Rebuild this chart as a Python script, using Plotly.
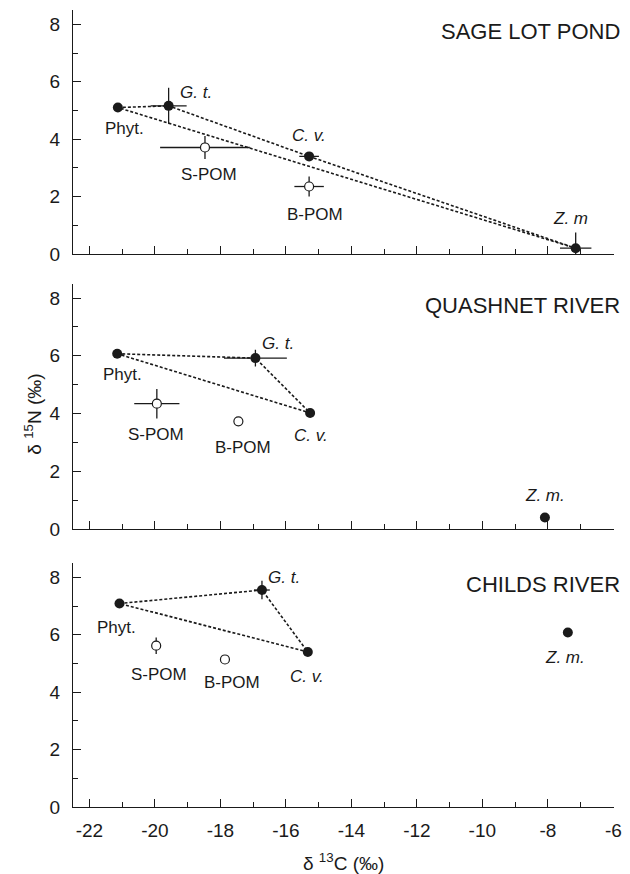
import plotly.graph_objects as go

# ---------------- data ----------------
# Sage Lot Pond
sage_fill_names = ["Phyt.", "G. t.", "C. v.", "Z. m"]
sage_fill_x = [-21.13, -19.58, -15.29, -7.15]
sage_fill_y = [5.10, 5.16, 3.40, 0.20]
sage_fill_xerr = [0, 0.55, 0.30, 0.48]
sage_fill_yerr = [0, 0.63, 0, 0.55]
sage_open_names = ["S-POM", "B-POM"]
sage_open_x = [-18.47, -15.29]
sage_open_y = [3.71, 2.35]
sage_open_xerr = [1.37, 0.45]
sage_open_yerr = [0.40, 0.35]

# Quashnet River
quash_fill_names = ["Phyt.", "G. t.", "C. v.", "Z. m."]
quash_fill_x = [-21.15, -16.93, -15.26, -8.09]
quash_fill_y = [6.07, 5.92, 4.02, 0.40]
quash_fill_xerr = [0, 0.96, 0, 0]
quash_fill_yerr = [0, 0.29, 0, 0]
quash_open_names = ["S-POM", "B-POM"]
quash_open_x = [-19.94, -17.45]
quash_open_y = [4.34, 3.73]
quash_open_xerr = [0.69, 0]
quash_open_yerr = [0.51, 0]

# Childs River
childs_fill_names = ["Phyt.", "G. t.", "C. v.", "Z. m."]
childs_fill_x = [-21.08, -16.73, -15.33, -7.39]
childs_fill_y = [7.09, 7.56, 5.40, 6.08]
childs_fill_xerr = [0, 0.24, 0, 0]
childs_fill_yerr = [0, 0.32, 0, 0]
childs_open_names = ["S-POM", "B-POM"]
childs_open_x = [-19.96, -17.86]
childs_open_y = [5.62, 5.14]
childs_open_xerr = [0, 0]
childs_open_yerr = [0.29, 0]

site_titles = ["SAGE LOT POND", "QUASHNET RIVER", "CHILDS RIVER"]

# label positions (data units) for each point label
sage_label_x = [-20.94, -18.74, -15.29, -7.31]
sage_label_y = [4.37, 5.62, 4.12, 1.22]
sage_open_label_x = [-18.34, -15.11]
sage_open_label_y = [2.76, 1.36]

quash_label_x = [-21.0, -16.24, -15.24, -8.09]
quash_label_y = [5.35, 6.44, 3.24, 1.17]
quash_open_label_x = [-19.96, -17.3]
quash_open_label_y = [3.29, 2.83]

childs_label_x = [-21.16, -16.07, -15.35, -7.48]
childs_label_y = [6.26, 8.0, 4.53, 5.21]
childs_open_label_x = [-19.87, -17.66]
childs_open_label_y = [4.63, 4.33]

x_ticks = [-22, -20, -18, -16, -14, -12, -10, -8, -6]
y_ticks = [0, 2, 4, 6, 8]

# mixing polygons (indices into filled points)
sage_poly = [0, 1, 2, 3, 0]
quash_poly = [0, 1, 2, 0]
childs_poly = [0, 1, 2, 0]

# --------------- figure ---------------
FONT = "Liberation Sans, Arial, Helvetica, sans-serif"
INK = "#1a1a1a"

panels = [
    dict(fx=sage_fill_x, fy=sage_fill_y, fxe=sage_fill_xerr, fye=sage_fill_yerr,
         ox=sage_open_x, oy=sage_open_y, oxe=sage_open_xerr, oye=sage_open_yerr,
         fn=sage_fill_names, on=sage_open_names,
         flx=sage_label_x, fly=sage_label_y, olx=sage_open_label_x, oly=sage_open_label_y,
         poly=sage_poly, title=site_titles[0], dom=[0.6939, 1.0]),
    dict(fx=quash_fill_x, fy=quash_fill_y, fxe=quash_fill_xerr, fye=quash_fill_yerr,
         ox=quash_open_x, oy=quash_open_y, oxe=quash_open_xerr, oye=quash_open_yerr,
         fn=quash_fill_names, on=quash_open_names,
         flx=quash_label_x, fly=quash_label_y, olx=quash_open_label_x, oly=quash_open_label_y,
         poly=quash_poly, title=site_titles[1], dom=[0.3488, 0.6567]),
    dict(fx=childs_fill_x, fy=childs_fill_y, fxe=childs_fill_xerr, fye=childs_fill_yerr,
         ox=childs_open_x, oy=childs_open_y, oxe=childs_open_xerr, oye=childs_open_yerr,
         fn=childs_fill_names, on=childs_open_names,
         flx=childs_label_x, fly=childs_label_y, olx=childs_open_label_x, oly=childs_open_label_y,
         poly=childs_poly, title=site_titles[2], dom=[0.0, 0.3061]),
]

fig = go.Figure()
annotations = []
layout_axes = {}

for i, p in enumerate(panels):
    n = i + 1
    xa = "x" if n == 1 else f"x{n}"
    ya = "y" if n == 1 else f"y{n}"
    # dashed mixing lines
    fig.add_trace(go.Scatter(
        x=[p["fx"][k] for k in p["poly"]], y=[p["fy"][k] for k in p["poly"]],
        mode="lines", line=dict(color=INK, width=1.6, dash="3px,2px"),
        xaxis=xa, yaxis=ya, showlegend=False, hoverinfo="skip"))
    # filled points
    fig.add_trace(go.Scatter(
        x=p["fx"], y=p["fy"], mode="markers",
        marker=dict(color=INK, size=10, line=dict(width=0)),
        error_x=dict(type="data", array=p["fxe"], color=INK, thickness=1.3, width=0),
        error_y=dict(type="data", array=p["fye"], color=INK, thickness=1.3, width=0),
        xaxis=xa, yaxis=ya, showlegend=False))
    # open points
    fig.add_trace(go.Scatter(
        x=p["ox"], y=p["oy"], mode="markers",
        marker=dict(color="white", size=9, line=dict(color=INK, width=1.2)),
        error_x=dict(type="data", array=p["oxe"], color=INK, thickness=1.3, width=0),
        error_y=dict(type="data", array=p["oye"], color=INK, thickness=1.3, width=0),
        xaxis=xa, yaxis=ya, showlegend=False))
    # labels
    for name, lx, ly in zip(p["fn"], p["flx"], p["fly"]):
        txt = name if name.startswith("Phyt") else f"<i>{name}</i>"
        annotations.append(dict(x=lx, y=ly, xref=xa, yref=ya, text=txt, showarrow=False,
                                font=dict(family=FONT, size=17, color=INK)))
    for name, lx, ly in zip(p["on"], p["olx"], p["oly"]):
        annotations.append(dict(x=lx, y=ly, xref=xa, yref=ya, text=name, showarrow=False,
                                font=dict(family=FONT, size=17, color=INK)))
    annotations.append(dict(x=1.0, y=7.75, xref=f"{xa} domain", yref=ya, text=p["title"],
                            showarrow=False, xanchor="right", yanchor="middle", xshift=8,
                            font=dict(family=FONT, size=22, color=INK)))

    xkey = "xaxis" if n == 1 else f"xaxis{n}"
    ykey = "yaxis" if n == 1 else f"yaxis{n}"
    layout_axes[xkey] = dict(
        range=[-22.5, -5.98], tickvals=x_ticks, ticktext=[str(v) for v in x_ticks],
        showticklabels=(n == 3), ticks="inside", ticklen=8, tickwidth=1.2, tickcolor=INK,
        minor=dict(ticks="inside", ticklen=5, tickwidth=1.2, tickcolor=INK, dtick=1, tick0=-22,
                   showgrid=False),
        showline=True, linecolor=INK, linewidth=1.3, showgrid=False, zeroline=False,
        anchor=ya, domain=[0, 1], ticklabelstandoff=6,
        tickfont=dict(family=FONT, size=19, color=INK))
    if n != 1:
        layout_axes[xkey]["matches"] = "x"
    layout_axes[ykey] = dict(
        range=[0, 8.5], tickvals=y_ticks, ticktext=[str(v) for v in y_ticks],
        ticks="inside", ticklen=8, tickwidth=1.2, tickcolor=INK,
        minor=dict(ticks="inside", ticklen=5, tickwidth=1.2, tickcolor=INK, dtick=1, tick0=0,
                   showgrid=False),
        showline=True, linecolor=INK, linewidth=1.3, showgrid=False, zeroline=False,
        anchor=xa, domain=p["dom"], ticklabelstandoff=8,
        tickfont=dict(family=FONT, size=19, color=INK))

# axis titles
annotations.append(dict(x=0.5, y=-0.069, xref="paper", yref="paper",
                        xanchor="center", yanchor="middle",
                        text="δ <sup>13</sup>C (‰)", showarrow=False,
                        font=dict(family=FONT, size=19, color=INK)))
annotations.append(dict(x=-0.0729, y=0.493, xref="paper", yref="paper",
                        xanchor="center", yanchor="middle",
                        text="δ <sup>15</sup>N (‰)", showarrow=False, textangle=-90,
                        font=dict(family=FONT, size=19, color=INK)))

fig.update_layout(
    width=630, height=874,
    margin=dict(l=73, r=8, t=10, b=67),
    paper_bgcolor="white", plot_bgcolor="white",
    showlegend=False,
    annotations=annotations,
    **layout_axes)

fig.write_html("out.html")
